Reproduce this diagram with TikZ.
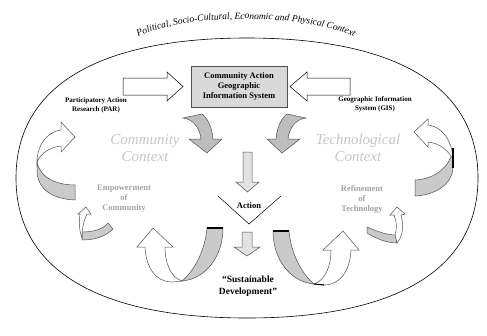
\documentclass[tikz,border=0pt]{standalone}
\usepackage{fontspec}
\setmainfont{Liberation Serif}
\usetikzlibrary{decorations.text}
\definecolor{boxfill}{HTML}{D9D9D9}
\definecolor{ribbon}{HTML}{CACACA}
\definecolor{bendfill}{HTML}{BEBEBE}
\definecolor{downfill}{HTML}{E2E2E2}
\definecolor{ctxtext}{HTML}{C6C6C6}
\definecolor{outtext}{HTML}{A3A3A3}
\definecolor{edge}{HTML}{505050}
\tikzset{
  srclbl/.style={font=\bfseries\fontsize{7}{9}\selectfont,align=center},
  ctxlbl/.style={font=\itshape\fontsize{15}{17}\selectfont,text=ctxtext,align=center},
  outlbl/.style={font=\bfseries\fontsize{8.5}{10}\selectfont,text=outtext,align=center},
  blockarrow/.style={draw=black,fill=white,line width=0.5pt},
  bendarrow/.style={draw=edge,fill=bendfill,line width=0.5pt},
  downarrow/.style={draw=edge,fill=downfill,line width=0.5pt},
  twistback/.style={draw=edge,fill=ribbon,line width=0.5pt},
  twistfront/.style={draw=edge,fill=white,line width=0.5pt},
  twistend/.style={line width=1.1pt,line cap=butt}
}

\begin{document}
\begin{tikzpicture}[x=1pt,y=-1pt]
  \useasboundingbox (0,0) rectangle (487,335);

  % outer context
  \draw[line width=0.6pt] (16,178) .. controls (16,87) and (97,38) .. (247,38)
    .. controls (397,38) and (478,87) .. (478,178)
    .. controls (478,269) and (397,318) .. (247,318)
    .. controls (97,318) and (16,269) .. (16,178) -- cycle;
  \path[decorate,decoration={text along path,text align=center,
      text={|\itshape\fontsize{9.5}{11}\selectfont|Political, Socio-Cultural, Economic and Physical Context}}]
    (138,37) .. controls (185,13) and (305,13) .. (354,37);

  % central box and inputs
  \node[draw=edge,fill=boxfill,minimum width=96pt,minimum height=41pt,inner sep=1pt,
        font=\bfseries\fontsize{8.5}{10}\selectfont,align=center] (cagis) at (239,86.5)
    {Community Action\\Geographic\\Information System};
  \draw[blockarrow] (123,78) -- (167,78) -- (167,72) -- (183,86.5) -- (167,101) -- (167,95) -- (123,95) -- cycle;
  \draw[blockarrow] (350,78) -- (307,78) -- (307,72) -- (290,86.5) -- (307,101) -- (307,95) -- (350,95) -- cycle;
  \node[srclbl] (par) at (96,105.5) {Participatory Action\\Research (PAR)};
  \node[srclbl] (gis) at (375,104) {Geographic Information\\System (GIS)};

  % contexts
  \node[ctxlbl] (comctx) at (145,148) {Community\\Context};
  \node[ctxlbl] (techctx) at (358,148) {Technological\\Context};
  \node[outlbl] (empower) at (124,199) {Empowerment\\of\\Community};
  \node[outlbl] (refine) at (362,199) {Refinement\\of\\Technology};

  % bent arrows into action
  \draw[bendarrow] (183,118) .. controls (193,119) and (200,128) .. (201,139) -- (189,139) -- (207,153)
    -- (222,139) -- (213,139) .. controls (212,125) and (206,117) .. (202,114) -- cycle;
  \draw[bendarrow] (306,118) .. controls (296,119) and (289,128) .. (288,139) -- (300,139) -- (282,153)
    -- (267,139) -- (276,139) .. controls (277,125) and (283,117) .. (287,114) -- cycle;
  \draw[downarrow] (243,152) -- (252,152) -- (252,182) -- (259,182) -- (247.5,192) -- (236,182) -- (243,182) -- cycle;

  % action
  \coordinate (vl) at (218,196);
  \coordinate (vb) at (249,224);
  \coordinate (vr) at (281,196);
  \draw[line width=0.5pt] (vl) -- (vb) -- (vr);
  \node[font=\bfseries\fontsize{8.5}{10}\selectfont] (action) at (249,206) {Action};
  \draw[downarrow] (242,232) -- (252,232) -- (252,247) -- (260,247) -- (247,256) -- (234,247) -- (242,247) -- cycle;
  \node[font=\bfseries\fontsize{9.5}{12}\selectfont,align=center] (susdev) at (248,286)
    {``Sustainable\\Development''};

  % left loop, large
  \draw[twistback] (37,162) .. controls (40,178) and (57,185) .. (75,185) -- (75,200)
    .. controls (52,199) and (38,189) .. (37,172) -- cycle;
  \draw[twistfront] (37,166) .. controls (36,148) and (45,132) .. (61,130) -- (61,122) -- (75,137)
    -- (61,152) -- (61,146) .. controls (50,147) and (40,154) .. (37,162) -- cycle;
  % left loop, small
  \draw[twistback] (82,232) .. controls (94,232) and (103,229) .. (108,223) -- (113,229)
    .. controls (105,237) and (94,240) .. (82,240) -- cycle;
  \draw[twistfront] (82,238) .. controls (79,230) and (79,222) .. (80,214) -- (78,214) -- (86,207)
    -- (91,214) -- (87,214) .. controls (84,220) and (83,226) .. (82,232) -- cycle;

  % right loop, large
  \draw[twistback] (453,150) .. controls (450,166) and (436,179) .. (415,180) -- (415,196)
    .. controls (436,195) and (452,184) .. (453,168) -- cycle;
  \draw[twistfront] (453,168) .. controls (455,146) and (445,127) .. (428,125) -- (428,119) -- (414,132)
    -- (428,147) -- (428,142) .. controls (440,143) and (450,152) .. (453,160) -- cycle;
  \draw[twistend] (453,148) -- (453,168);
  % right loop, small
  \draw[twistback] (367,227) .. controls (378,232) and (388,235) .. (396,235) -- (397,243)
    .. controls (386,243) and (375,238) .. (367,233) -- cycle;
  \draw[twistfront] (397,243) .. controls (403,236) and (404,226) .. (401,215) -- (405,214) -- (397,207)
    -- (390,215) -- (394,215) .. controls (397,222) and (397,229) .. (395,235) -- cycle;

  % bottom loops
  \draw[twistback] (207,228) -- (223,228) .. controls (223,256) and (206,279) .. (182,281)
    .. controls (195,270) and (205,250) .. (207,228) -- cycle;
  \draw[twistfront] (182,281) .. controls (170,277) and (165,262) .. (165,247) -- (173,247) -- (153,228)
    -- (137,247) -- (145,247) .. controls (146,268) and (156,282) .. (172,282) -- cycle;
  \draw[twistend] (207,228) -- (223,228);
  \draw[twistback] (289,231) -- (273,231) .. controls (273,259) and (290,282) .. (314,284)
    .. controls (301,273) and (291,253) .. (289,231) -- cycle;
  \draw[twistfront] (314,284) .. controls (326,280) and (331,265) .. (331,250) -- (323,250) -- (343,231)
    -- (359,250) -- (351,250) .. controls (350,271) and (340,285) .. (324,285) -- cycle;
  \draw[twistend] (273,231) -- (289,231);
  \draw[twistend] (314,284) -- (324,285);
\end{tikzpicture}
\end{document}
